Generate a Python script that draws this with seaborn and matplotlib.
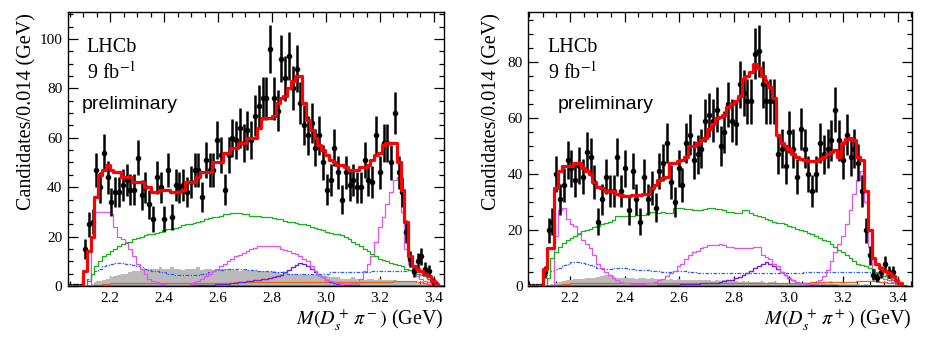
import numpy as np
import matplotlib
matplotlib.use("Agg")
import matplotlib.pyplot as plt
import seaborn as sns
from matplotlib.ticker import MultipleLocator

# ---------------- binning ----------------
BIN_START = 2.044
BIN_WIDTH = 0.014
N_BINS = 99

# ---------------- D_s+ pi- (left) ----------------
left_data = [0, 0, 0, 0,
             15, 25, 26, 47, 40, 54, 44, 34, 38, 38,
             41, 43, 39, 39, 52, 37, 40, 33, 27, 44,
             40, 27, 47, 28, 41, 40, 41, 38, 42, 47,
             47, 36, 51, 47, 47, 59, 53, 39, 53, 60,
             59, 64, 58, 63, 59, 69, 73, 76, 76, 96,
             76, 71, 92, 84, 93, 80, 88, 74, 65, 61,
             66, 56, 61, 50, 39, 43, 56, 46, 35, 46,
             41, 43, 40, 40, 51, 43, 42, 61, 46, 58,
             58, 50, 70, 46, 38, 22, 11, 6, 10, 12,
             7, 6, 2, 1]
left_fit = [0, 0, 0, 0,
            6, 14, 20, 36, 45, 47, 49, 47, 46, 46,
            44, 44, 44, 42, 42, 42, 40, 40, 38, 38,
            39, 39, 39, 38, 38, 38, 39, 42, 42, 42,
            44, 46, 46, 46, 50, 50, 50, 54, 54, 56,
            56, 58, 58, 60, 60, 60, 64, 68, 68, 68,
            69, 74, 76, 77, 80, 83, 85, 85, 74, 67,
            63, 60, 57, 55, 53, 51, 50, 49, 49, 48,
            47, 47, 47, 48, 48, 49, 51, 53, 54, 57,
            58, 58, 58, 50, 39, 26, 12, 8, 7, 6,
            5, 4, 2, 1, 0]
left_green = [0, 0, 0, 0,
              0, 2, 5, 8, 10, 12, 13, 14, 15, 16,
              17, 17.5, 18, 19, 19.5, 20, 20.5, 21, 21, 21.5,
              22, 22.5, 23, 23, 23.5, 24, 24.5, 25, 25, 25.5,
              26, 26.5, 27, 27.5, 28, 28, 28.5, 29, 29, 29.5,
              29.5, 29.5, 29, 29, 28.5, 28.5, 28.5, 28, 28, 28,
              27.5, 27, 27, 26.5, 26, 26, 25.5, 25, 25, 24.5,
              24, 23.5, 23, 22.5, 22, 21.5, 21, 21, 20.5, 20,
              19, 18, 17, 16, 15, 14, 13, 12, 11, 10.5,
              10, 9.5, 9, 8.5, 8, 7, 6.5, 6, 5, 4.5,
              4, 3, 2, 1, 0]
left_magenta = [0, 0, 0, 0,
                0, 0, 20, 30, 30, 30, 30, 29, 24, 20,
                19, 18, 15, 12, 9, 7, 5, 3, 2, 1.5,
                1, 0.8, 0.5, 0.4, 0.3, 0.3, 0.4, 0.6, 1, 1.5,
                2, 3, 4, 5, 6, 7, 8, 9, 10, 11,
                12, 12.5, 13.5, 14, 15, 15.5, 16, 16, 16, 16,
                16, 16, 15, 14.5, 14, 13.5, 13, 12, 11, 10,
                8, 6, 4.5, 3.5, 2.5, 2, 1.5, 1.2, 1, 1,
                1, 1.2, 1.4, 3, 6, 9, 12, 18, 24, 28,
                33, 38, 43, 44, 30, 15, 9, 5, 4, 3,
                2, 1.5, 1, 0.5, 0]
left_blue = [0, 0, 0, 0,
             0, 3, 5, 6, 7, 8, 8.5, 9, 9.5, 9.5,
             9.5, 9, 9, 8.5, 8, 7.5, 7, 6.5, 6, 6,
             5.5, 5.5, 5, 5, 4.5, 4.5, 4.5, 4.5, 4.5, 4.5,
             4.5, 5, 5, 5.5, 6, 6.5, 6.5, 7, 7, 7,
             7, 7, 7, 6.5, 6.5, 6.5, 6, 6, 6, 6,
             5.5, 5.5, 5.5, 5.5, 5, 5, 5, 5, 5, 5,
             5, 5, 5, 5, 5, 5.5, 5.5, 5.5, 5.5, 5.5,
             5.5, 5.5, 5.5, 5.5, 5.5, 5.5, 6, 6, 6, 6,
             6, 6, 6, 6, 6, 6, 6.5, 6, 5.5, 5,
             4, 3, 2, 1, 0]
left_purple = [0, 0, 0, 0,
               0, 0, 0, 0, 0, 0, 0, 0, 0, 0,
               0, 0, 0, 0, 0, 0, 0, 0, 0, 0,
               0, 0, 0.1, 0.1, 0.1, 0.1, 0.1, 0.1, 0.2, 0.3,
               0.3, 0.4, 0.5, 0.5, 0.6, 0.7, 0.8, 0.9, 1, 1.2,
               1.4, 1.6, 1.8, 2, 2.2, 2.4, 2.6, 2.8, 3, 3.2,
               3.5, 4, 4.5, 5.5, 6.5, 7.5, 8.5, 9.2, 9, 8,
               7, 5.5, 4.5, 3.5, 2.5, 1.8, 1.4, 1, 0.8, 0.5,
               0.4, 0.3, 0.3, 0.2, 0.2, 0.2, 0.1, 0.1, 0.1, 0.1,
               0.1, 0.1, 0.1, 0.1, 0.1, 0.1, 0.1, 0.1, 0.1, 0.1,
               0.1, 0.1, 0, 0, 0]
left_orange = [0, 0, 0, 0,
               0, 0, 0, 0.3, 0.6, 0.8, 1, 1.1, 1.2, 1.3,
               1.3, 1.3, 1.3, 1.3, 1.3, 1.3, 1.3, 1.3, 1.3, 1.3,
               1.4, 1.4, 1.4, 1.4, 1.4, 1.4, 1.4, 1.4, 1.4, 1.4,
               1.4, 1.4, 1.4, 1.4, 1.4, 1.4, 1.4, 1.4, 1.4, 1.4,
               1.5, 1.5, 1.5, 1.5, 1.5, 1.5, 1.5, 1.5, 1.5, 1.5,
               1.5, 1.5, 1.5, 1.5, 1.5, 1.5, 1.5, 1.5, 1.5, 1.5,
               1.5, 1.5, 1.5, 1.5, 1.5, 1.5, 1.5, 1.5, 1.5, 1.5,
               1.6, 1.6, 1.6, 1.6, 1.6, 1.6, 1.6, 1.6, 1.7, 1.7,
               1.8, 1.8, 2, 2, 2, 2, 2, 2, 1.8, 1.6,
               1.4, 1, 0.6, 0.3, 0]
left_gray = [0, 0, 0, 0,
             0, 0.5, 1, 1.5, 2, 2.5, 3, 3.5, 4, 4.5,
             5, 5, 5.5, 6, 6, 6.5, 7, 7, 7, 7,
             7.5, 7, 7, 7.5, 7, 7, 6.5, 7, 7, 7,
             7.5, 6.5, 7, 7, 6.5, 7, 7, 7, 6.5, 7,
             6.5, 6, 6.5, 6.5, 6, 6.5, 6, 6, 6, 5.5,
             6, 5.5, 5, 5.5, 5, 5, 5, 4.5, 5, 4.5,
             4.5, 4.5, 4, 4, 4, 3.5, 3.5, 3.5, 3, 3,
             3, 3.5, 3, 3, 2.5, 3, 3, 2.5, 3, 2.5,
             2.5, 2.5, 2.5, 2, 2, 2, 1.5, 1.5, 1, 1,
             1, 0.5, 0.5, 0.3, 0]
left_cyan = [0, 0, 0, 0,
             0, 0, 0, 0.4, 0.4, 0.4, 0.4, 0.4, 0.4, 0.4,
             0.4, 0.4, 0.4, 0.4, 0.4, 0.4, 0.4, 0.3, 0.3, 0.3,
             0.3, 0.3, 0.3, 0.3, 0.3, 0.3, 0.3, 0.3, 0.3, 0.3,
             0.3, 0.3, 0.3, 0.3, 0.3, 0.3, 0.3, 0.3, 0.3, 0.3,
             0.3, 0.3, 0.3, 0.3, 0.3, 0.3, 0.3, 0.3, 0.3, 0.3,
             0.3, 0.3, 0.3, 0.3, 0.3, 0.3, 0.3, 0.3, 0.3, 0.3,
             0.3, 0.3, 0.3, 0.3, 0.3, 0.3, 0.3, 0.3, 0.3, 0.3,
             0.3, 0.3, 0.3, 0.3, 0.3, 0.3, 0.3, 0.3, 0.3, 0.3,
             0.4, 0.4, 0.4, 0.4, 0.4, 0.4, 0.4, 0.4, 0.4, 0.4,
             0.4, 0.4, 0.3, 0, 0]

# ---------------- D_s+ pi+ (right) ----------------
right_data = [0, 0, 0, 0,
              5, 20, 23, 40, 31, 36, 45, 42, 38, 43,
              39, 48, 46, 37, 23, 31, 39, 34, 34, 46,
              34, 42, 27, 41, 31, 23, 39, 31, 35, 28,
              41, 44, 51, 37, 30, 42, 36, 51, 54, 45,
              47, 49, 59, 61, 59, 63, 50, 55, 65, 59,
              58, 72, 69, 66, 66, 83, 84, 72, 66, 66,
              66, 47, 49, 43, 55, 49, 39, 56, 49, 40,
              34, 40, 51, 47, 49, 52, 63, 52, 45, 54,
              46, 49, 44, 34, 20, 11, 4, 3, 5, 8,
              5, 5]
right_fit = [0, 0, 0, 0,
             6, 13.5, 13.5, 35, 41, 43, 43, 43, 44, 44,
             42, 41, 40, 37, 35.5, 35, 34, 34, 34, 33,
             32.5, 32, 32, 32.5, 32.5, 32.5, 33, 33, 35, 36,
             38, 38.5, 39, 44, 44, 44.5, 45, 46, 50, 50,
             51, 52, 53, 56, 58, 60, 60.5, 61, 64, 65,
             66, 68, 74, 75, 76.5, 79.5, 78, 75, 73, 71,
             67, 54, 51, 50, 49, 47, 46, 45.5, 45, 44.5,
             44.5, 44.5, 45.5, 46, 47, 48, 48.5, 46, 51, 52.5,
             53, 52, 46, 45, 34, 20, 10, 8, 6.5, 5.5,
             4.5, 3.5, 2, 1, 0]
right_green = [0, 0, 0, 0,
               0, 3, 10, 12, 14, 15.5, 16.5, 17, 18, 18.5,
               19.5, 20, 20.5, 21, 21.5, 22, 22.5, 23, 23.5, 25,
               25, 25, 25, 25, 25.5, 25.5, 25.5, 26, 26.5, 26.5,
               26, 26.5, 26, 26, 28, 28, 28, 27.5, 27.5, 27,
               27, 27, 27.5, 28, 28, 27.5, 27.5, 27, 26.5, 26.5,
               26, 26, 27, 27, 26, 25.5, 25, 24.5, 24, 23.5,
               23, 22.5, 22.5, 22, 21.5, 21, 20.5, 20, 19.5, 19,
               18.5, 18, 17, 16.5, 16, 15, 14, 13, 12, 11,
               10, 9, 8, 7.5, 7, 6.5, 6, 5, 4.5, 3.5,
               3, 2, 1, 0.5, 0]
right_magenta = [0, 0, 0, 0,
                 0, 0, 0, 18, 27, 28, 24, 22, 21.5, 19,
                 16.5, 15, 13.5, 11, 8, 6.5, 5, 4, 3, 2,
                 1.5, 1.2, 1, 0.7, 0.6, 0.6, 0.7, 0.9, 1, 1.5,
                 2, 2.5, 3.5, 4.5, 5.5, 7, 8, 9.5, 11, 12,
                 12.5, 13.5, 14, 14.5, 14.5, 14.7, 15, 14.5, 14, 14,
                 13.5, 13.5, 13.5, 13.5, 13.5, 14, 14, 11, 10.5, 9.5,
                 8, 7, 5, 3.8, 2.8, 2, 1.5, 1.2, 1, 0.8,
                 0.7, 1, 2, 3.5, 5.7, 9, 12, 15, 18, 22,
                 27, 33, 38, 41, 30, 14, 6, 4, 3.3, 2.5,
                 2, 1.5, 1, 0.5, 0]
right_blue = [0, 0, 0, 0,
              0, 4, 5.5, 6, 6.5, 7.5, 8, 8.5, 8.7, 8.7,
              8.3, 8, 7.5, 7, 6.5, 6, 6, 6, 6.5, 6.5,
              6.5, 6.3, 6, 6, 5.8, 5.8, 5.7, 5.7, 5.5, 5.3,
              5.2, 5.1, 5, 5, 5.3, 5.5, 5.5, 5.2, 5, 5,
              4.8, 4.6, 4.5, 4.7, 4.7, 4.7, 4.7, 4.7, 4.7, 4.7,
              4.7, 4.7, 4.7, 4.5, 4.5, 4.5, 4.5, 4.5, 4.5, 4.5,
              4.5, 4.5, 4.5, 4.5, 4.5, 4.5, 4.5, 4.5, 5, 5,
              5, 5, 5, 5, 5, 5, 5, 5, 5, 5,
              5, 5, 5, 5, 5, 5, 5, 4.8, 4.5, 4,
              3.3, 2.5, 1.5, 0.8, 0]
right_purple = [0, 0, 0, 0,
                0, 0, 0, 0, 0, 0, 0, 0, 0, 0,
                0, 0, 0, 0, 0, 0, 0, 0, 0, 0,
                0, 0, 0, 0, 0.1, 0.1, 0.1, 0.1, 0.1, 0.1,
                0.3, 0.3, 0.4, 0.4, 0.5, 0.5, 0.6, 0.7, 0.8, 0.8,
                0.8, 0.9, 1, 1, 1, 1.2, 1.5, 1.8, 2, 2.3,
                2.7, 3.2, 3.8, 4.5, 5.3, 6.3, 7.3, 8, 8.5, 8,
                7, 6, 5, 4, 3, 2.2, 1.6, 1.2, 0.9, 0.7,
                0.5, 0.4, 0.3, 0.3, 0.2, 0.2, 0.2, 0.1, 0.1, 0.1,
                0.1, 0.1, 0.1, 0.1, 0.1, 0.1, 0.1, 0.1, 0.1, 0.1,
                0.1, 0.1, 0, 0, 0]
right_orange = [0, 0, 0, 0,
                0, 0, 0, 0.3, 0.5, 0.7, 0.8, 0.9, 1, 1,
                1, 1, 1, 1, 1, 1, 1, 1, 1, 1,
                1.1, 1.1, 1.1, 1.1, 1.1, 1.1, 1.1, 1.1, 1.1, 1.1,
                1.1, 1.1, 1.1, 1.1, 1.1, 1.1, 1.1, 1.1, 1.1, 1.1,
                1.2, 1.2, 1.2, 1.2, 1.2, 1.2, 1.2, 1.2, 1.2, 1.2,
                1.2, 1.2, 1.2, 1.2, 1.2, 1.2, 1.2, 1.2, 1.2, 1.2,
                1.2, 1.2, 1.2, 1.2, 1.2, 1.2, 1.2, 1.2, 1.2, 1.2,
                1.3, 1.3, 1.3, 1.3, 1.3, 1.3, 1.3, 1.3, 1.4, 1.4,
                1.5, 1.6, 1.7, 1.8, 1.8, 1.8, 1.8, 1.7, 1.6, 1.5,
                1.2, 0.9, 0.6, 0.3, 0]
right_gray = [0, 0, 0, 0,
              0, 0.5, 0.8, 1, 1.5, 1.8, 2, 2.2, 2.5, 2.5,
              2.5, 2.8, 3, 3, 3.2, 3.5, 4, 4, 3.5, 3,
              3, 3, 2.8, 3, 2.5, 2.8, 3, 2.5, 2.8, 2.5,
              2.5, 2.5, 2.2, 2.5, 2.2, 2.5, 2, 2.2, 2, 2,
              2.2, 2, 2, 2, 1.8, 2, 1.8, 2, 1.8, 1.8,
              1.8, 1.5, 1.8, 1.5, 1.5, 1.5, 1.5, 1.5, 1.2, 1.5,
              1.5, 1.2, 1.2, 1.2, 1.2, 1.2, 1, 1.2, 1, 1,
              1, 1, 1, 1, 0.8, 1, 0.8, 0.8, 1, 0.8,
              0.8, 0.8, 0.8, 0.5, 0.8, 0.5, 0.5, 0.5, 0.5, 0.3,
              0.3, 0.3, 0.2, 0.2, 0]
right_cyan = left_cyan

x_ticks = [2.2, 2.4, 2.6, 2.8, 3.0, 3.2, 3.4]
x_tick_labels = ["2.2", "2.4", "2.6", "2.8", "3.0", "3.2", "3.4"]

# ---------------- style ----------------
sns.set_theme(style="ticks")
plt.rcParams["font.family"] = ["Liberation Serif", "DejaVu Serif"]
plt.rcParams["mathtext.fontset"] = "stix"
for key in ("text.color", "axes.labelcolor", "xtick.color", "ytick.color",
            "axes.edgecolor"):
    plt.rcParams[key] = "black"

edges = BIN_START + BIN_WIDTH * np.arange(N_BINS + 1)
centers = edges[:-1] + BIN_WIDTH / 2

fig = plt.figure(figsize=(9.29, 3.42), dpi=100)
ax_l = fig.add_axes([0.0732, 0.1637, 0.4047, 0.802])
ax_r = fig.add_axes([0.5687, 0.1637, 0.4127, 0.802])


def step_component(ax, values, color, lw, ls="-", zorder=2):
    """Histogram outline of one fit component, closed down to zero."""
    vals = np.asarray(values, dtype=float)
    xs = np.concatenate([[edges[0]], edges, [edges[-1]]])
    ys = np.concatenate([[0.0], vals, [vals[-1], 0.0]])
    sns.lineplot(x=xs, y=ys, drawstyle="steps-post", estimator=None,
                 sort=False, color=color, linewidth=lw, linestyle=ls,
                 ax=ax, zorder=zorder)


def draw_panel(ax, data, fit, green, magenta, blue, purple, orange, gray,
               cyan, xlim, ylim, ymajor, xlabel, ylabel_x, texts):
    ax.bar(centers, gray, width=BIN_WIDTH, color="#bababa", linewidth=0,
           zorder=1)
    step_component(ax, cyan, "#00c8c8", 0.9)
    step_component(ax, orange, "#ff5a00", 0.9)
    step_component(ax, purple, "#7a1fe0", 1.0)
    step_component(ax, blue, "#2e5cff", 0.9, ls=(0, (3, 1.2, 1, 1.2)))
    step_component(ax, magenta, "#e850f0", 0.9)
    step_component(ax, green, "#14b414", 0.9)

    x = centers[:len(data)]
    y = np.asarray(data, dtype=float)
    ax.errorbar(x, y, yerr=np.sqrt(y), fmt="none", ecolor="black",
                elinewidth=1.8, capsize=0, zorder=4)
    sns.scatterplot(x=x, y=y, color="black", s=16, edgecolor="black",
                    linewidth=0, ax=ax, zorder=5)

    step_component(ax, fit, "#ff0000", 2.3, zorder=6)

    ax.set_xlim(*xlim)
    ax.set_ylim(*ylim)
    ax.set_xticks(x_ticks)
    ax.set_xticklabels(x_tick_labels)
    ax.xaxis.set_minor_locator(MultipleLocator(0.05))
    ax.yaxis.set_major_locator(MultipleLocator(ymajor))
    ax.yaxis.set_minor_locator(MultipleLocator(5))
    ax.tick_params(which="both", direction="in", top=True, right=True,
                   labelsize=11, width=0.9, color="black",
                   labelcolor="black", pad=4)
    ax.tick_params(which="major", length=7)
    ax.tick_params(which="minor", length=3.5)
    for sp in ax.spines.values():
        sp.set_linewidth(1.0)
        sp.set_color("black")

    ax.set_xlabel(xlabel, fontsize=14.5, loc="right", color="black")
    ax.xaxis.set_label_coords(1.0, -0.075)
    ax.set_ylabel("Candidates/0.014 (GeV)", fontsize=14.5, loc="top",
                  color="black")
    ax.yaxis.set_label_coords(ylabel_x, 0.995)

    (lx, ly), (fx, fy), (px, py) = texts
    ax.text(lx, ly, "LHCb", transform=ax.transAxes, fontsize=14.5,
            ha="left", va="center", color="black")
    ax.text(fx, fy, "9 fb$^{-1}$", transform=ax.transAxes, fontsize=14.5,
            ha="left", va="center", color="black")
    ax.text(px, py, "preliminary", transform=ax.transAxes, fontsize=14,
            ha="left", va="center", color="black",
            family=["Liberation Sans", "DejaVu Sans"])


draw_panel(ax_l, left_data, left_fit, left_green, left_magenta, left_blue,
           left_purple, left_orange, left_gray, left_cyan,
           xlim=(2.044, 3.437), ylim=(0, 111), ymajor=20,
           xlabel=r"$M(D_s^+\,\pi^-)$ (GeV)", ylabel_x=-0.085,
           texts=((0.05, 0.868), (0.05, 0.777), (0.037, 0.66)))
draw_panel(ax_r, right_data, right_fit, right_green, right_magenta, right_blue,
           right_purple, right_orange, right_gray, right_cyan,
           xlim=(2.047, 3.451), ylim=(0, 98), ymajor=20,
           xlabel=r"$M(D_s^+\,\pi^+)$ (GeV)", ylabel_x=-0.069,
           texts=((0.051, 0.868), (0.051, 0.777), (0.077, 0.66)))

fig.savefig("out.png", dpi=100)
